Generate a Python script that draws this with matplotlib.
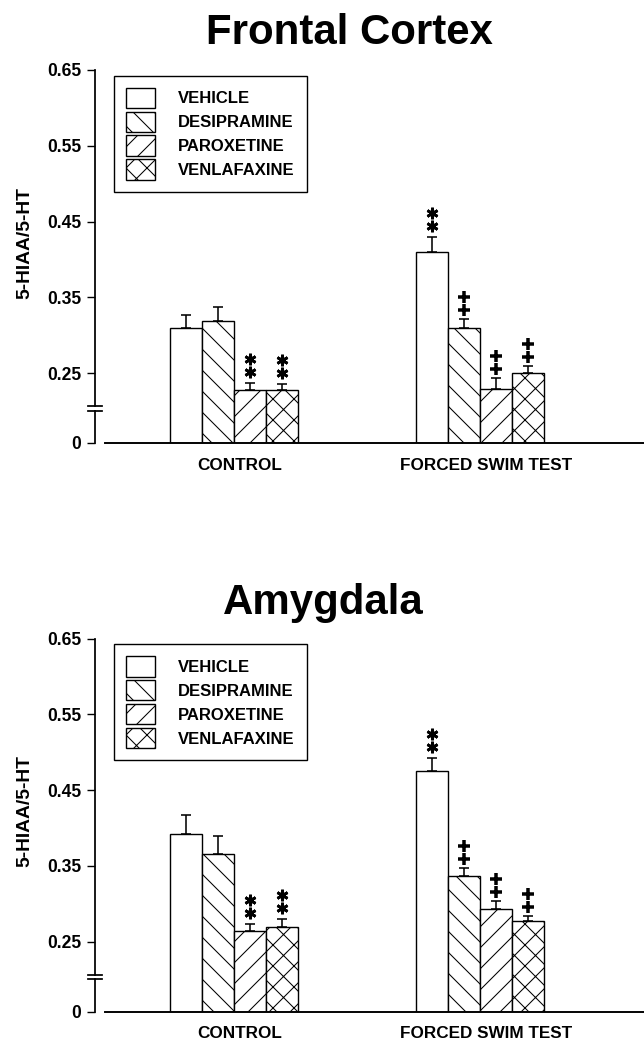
import matplotlib
matplotlib.use('Agg')
import matplotlib.pyplot as plt
from matplotlib.transforms import ScaledTranslation
import numpy as np

plt.rcParams['font.family'] = ['Liberation Sans', 'DejaVu Sans']
plt.rcParams['font.weight'] = 'bold'
plt.rcParams['hatch.linewidth'] = 0.6

# data
groups = ['CONTROL', 'FORCED SWIM TEST']
drugs = ['VEHICLE', 'DESIPRAMINE', 'PAROXETINE', 'VENLAFAXINE']
titles = ['Frontal Cortex', 'Amygdala']
ylabel = '5-HIAA/5-HT'
yticks = [0, 0.25, 0.35, 0.45, 0.55, 0.65]
ytick_labels = ['0', '0.25', '0.35', '0.45', '0.55', '0.65']

frontal_mean = [[0.309, 0.318, 0.228, 0.228],
                [0.410, 0.310, 0.229, 0.250]]
frontal_sem = [[0.018, 0.019, 0.009, 0.008],
               [0.020, 0.011, 0.014, 0.009]]
amygdala_mean = [[0.392, 0.366, 0.264, 0.270],
                 [0.476, 0.337, 0.293, 0.277]]
amygdala_sem = [[0.025, 0.023, 0.009, 0.010],
                [0.017, 0.010, 0.011, 0.007]]
# significance marks ('*' = vs control vehicle, '+' = vs FST vehicle)
marks = [['', '', '*', '*'],
         ['*', '+', '+', '+']]

hatches = ['', '\\\\', '//', 'xx']

# broken y axis: linear above BRK, 0..BRK squeezed into a short stub
BRK = 0.195
ZERO_POS = 0.1576


def fwd(v):
    v = np.asarray(v, dtype=float)
    return np.where(v >= BRK, v, ZERO_POS + v * (BRK - ZERO_POS) / BRK)


def inv(u):
    u = np.asarray(u, dtype=float)
    return np.where(u >= BRK, u, (u - ZERO_POS) * BRK / (BRK - ZERO_POS))


DPI = 126
W, H = 644, 1042
fig = plt.figure(figsize=(W / DPI, H / DPI), dpi=DPI)

panels = [(frontal_mean, frontal_sem, 443.0, 44.0, 349),
          (amygdala_mean, amygdala_sem, 1011.7, 614.0, 323)]

bar_w = 0.13
offsets = (np.arange(4) - 1.5) * bar_w
gx = np.arange(len(groups))

# marker styles for the significance symbols (px above the error cap)
sym_style = {'*': dict(marker=(6, 2, 0), ms=6.6, mew=1.6, lift=[11, 24]),
             '+': dict(marker='+', ms=6.3, mew=2.0, lift=[9, 22])}

for p, (mean, sem, ybot_px, title_px, title_x) in enumerate(panels):
    mean = np.array(mean)
    sem = np.array(sem)
    ax = fig.add_axes([95 / W, 1 - ybot_px / H, 549 / W, 373 / H])
    ax.set_yscale('function', functions=(fwd, inv))
    ax.set_ylim(0, 0.65)
    ax.set_xlim(-0.565, 1.667)

    for i, drug in enumerate(drugs):
        x = gx + offsets[i]
        ax.errorbar(x, mean[:, i], yerr=[np.zeros(len(groups)), sem[:, i]],
                    fmt='none', ecolor='black', elinewidth=0.9,
                    capsize=3.1, capthick=0.9, zorder=1)
        ax.bar(x, mean[:, i], bar_w, color='white', edgecolor='black',
               linewidth=0.8, hatch=hatches[i], label=drug, zorder=2)
        for g in range(len(groups)):
            sym = marks[g][i]
            if not sym:
                continue
            st = sym_style[sym]
            top = mean[g, i] + sem[g, i]
            for lift in st['lift']:
                tr = ax.transData + ScaledTranslation(0, lift / DPI,
                                                      fig.dpi_scale_trans)
                ax.plot([x[g]], [top], linestyle='none', marker=st['marker'],
                        ms=st['ms'], mew=st['mew'], color='black',
                        transform=tr, clip_on=False, zorder=3)

    # axes lines
    for s in ['top', 'right', 'left']:
        ax.spines[s].set_visible(False)
    ax.spines['bottom'].set_linewidth(1.1)
    ax.spines['bottom'].set_bounds(-0.524, 1.667)
    yt = ax.get_yaxis_transform()
    ax.plot([0, 0], [0.65, 0.2065], color='black', lw=1.0,
            transform=yt, clip_on=False)
    ax.plot([0, 0], [0.2005, 0], color='black', lw=1.0,
            transform=yt, clip_on=False)
    for yb in [0.2065, 0.2005]:
        ax.plot([-0.012, 0.012], [yb, yb], color='black', lw=1.0,
                transform=yt, clip_on=False)

    ax.set_yticks(yticks)
    ax.set_yticklabels(ytick_labels)
    ax.yaxis.set_minor_locator(matplotlib.ticker.NullLocator())
    ax.tick_params(axis='y', length=4.6, width=0.8, pad=3.2, labelsize=10)
    ax.set_xticks(gx)
    ax.set_xticklabels(groups)
    ax.tick_params(axis='x', length=0, pad=8.4, labelsize=9.8)
    for lab in ax.get_xticklabels():
        lab.set_transform(lab.get_transform() +
                          ScaledTranslation(6 / DPI, 0, fig.dpi_scale_trans))

    ax.text(-0.128, 0.537, ylabel, transform=ax.transAxes, rotation=90,
            ha='center', va='center', fontsize=11, fontweight='bold')

    leg = ax.legend(loc='upper left', bbox_to_anchor=(0.035, 0.985),
                    borderaxespad=0, fancybox=False, edgecolor='black',
                    framealpha=1, fontsize=9.5, handlelength=1.73,
                    handleheight=1.5, labelspacing=0.22, handletextpad=1.4,
                    borderpad=0.72)
    leg.get_frame().set_linewidth(0.8)

    fig.text(title_x / W, 1 - title_px / H, titles[p], ha='center',
             va='baseline', fontsize=24, fontweight='bold')

fig.savefig('out.png', dpi=DPI)
